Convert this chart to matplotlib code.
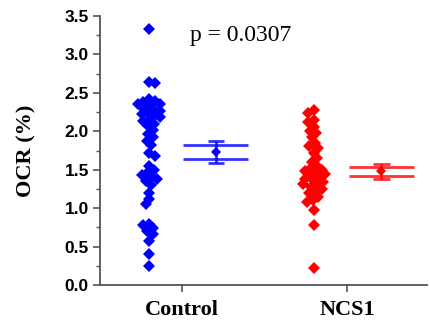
import matplotlib
matplotlib.use("Agg")
import matplotlib.pyplot as plt
import numpy as np
from matplotlib.ticker import MultipleLocator

categories = ["Control", "NCS1"]
control_vals = [3.33, 2.64, 2.63, 2.42, 2.40, 2.38, 2.36, 2.35, 2.33, 2.30, 2.28, 2.26,
                2.24, 2.22, 2.20, 2.18, 2.15, 2.13, 2.10, 2.07, 2.02, 1.97, 1.92, 1.88,
                1.82, 1.72, 1.68, 1.55, 1.50, 1.47, 1.43, 1.40, 1.38, 1.35, 1.30, 1.20,
                1.12, 1.05, 0.80, 0.78, 0.74, 0.70, 0.66, 0.57, 0.40, 0.25]
ncs1_vals = [2.28, 2.24, 2.15, 2.12, 2.06, 2.00, 1.98, 1.92, 1.85, 1.81, 1.78, 1.72,
             1.65, 1.60, 1.55, 1.52, 1.50, 1.48, 1.47, 1.45, 1.43, 1.40, 1.38, 1.36,
             1.34, 1.32, 1.30, 1.28, 1.25, 1.22, 1.20, 1.15, 1.10, 1.08, 0.98, 0.78, 0.22]
# summary box: mean, box low/high, whisker low/high
means = [1.73, 1.48]
box_low = [1.64, 1.42]
box_high = [1.82, 1.53]
whisk_low = [1.59, 1.38]
whisk_high = [1.87, 1.57]
p_text = "p = 0.0307"
colors = ["#0000FF", "#FF0000"]

W, H = 430, 321
fig = plt.figure(figsize=(W / 100, H / 100), dpi=100)
ax = fig.add_axes([100 / W, (H - 285) / H, (427 - 100) / W, (285 - 16) / H])
ax.set_xlim(0.506, 2.48)
ax.set_ylim(0, 3.5)

px_per_x = (427 - 100) / (2.48 - 0.506)
px_per_y = (285 - 16) / 3.5


def swarm(vals, min_d=6.0, max_off=11.0):
    placed = []
    offs = []
    for j, v in enumerate(vals):
        y = v * px_per_y
        sgn = 1.0 if j % 2 == 0 else -1.0
        cands = [0.0]
        for k in range(1, 40):
            cands += [sgn * k * 1.0, -sgn * k * 1.0]
        chosen = None
        for c in cands:
            if all((c - px) ** 2 + (y - py) ** 2 >= min_d ** 2 for px, py in placed):
                chosen = c
                break
        if chosen is None:
            chosen = 0.0
        chosen = max(-max_off, min(max_off, chosen))
        placed.append((chosen, y))
        offs.append(chosen / px_per_x)
    return np.array(offs)


for i, vals in enumerate([control_vals, ncs1_vals]):
    xc = (i + 1) - 0.2
    offs = swarm(vals)
    ax.plot(xc + offs, vals, linestyle="none", marker="D", markersize=6.3,
            color=colors[i], markeredgewidth=0)
    bx = (i + 1) + 0.205
    hw = 0.196
    cw = 0.05
    c = colors[i]
    ax.hlines([box_low[i], box_high[i]], bx - hw, bx + hw, color=c, lw=2.0, alpha=0.8)
    ax.vlines(bx, whisk_low[i], whisk_high[i], color=c, lw=2.0, alpha=0.8)
    ax.hlines([whisk_low[i], whisk_high[i]], bx - cw, bx + cw, color=c, lw=2.0, alpha=0.8)
    ax.plot([bx], [means[i]], marker="D", markersize=5, color=c, markeredgewidth=0)

for s in ["top", "right"]:
    ax.spines[s].set_visible(False)
for s in ["left", "bottom"]:
    ax.spines[s].set_color("#555555")
    ax.spines[s].set_linewidth(1.3)

ax.set_xticks([1, 2])
ax.set_xticklabels(categories, fontfamily="Liberation Serif", fontweight="bold", fontsize=16)
ax.yaxis.set_major_locator(MultipleLocator(0.5))
ax.yaxis.set_minor_locator(MultipleLocator(0.25))
ax.set_yticks(np.arange(0, 3.51, 0.5))
ax.set_yticklabels([f"{v:.1f}" for v in np.arange(0, 3.51, 0.5)],
                   fontfamily="Liberation Sans", fontweight="bold", fontsize=12.5)
ax.tick_params(axis="y", which="major", length=5, width=1.2, color="#555555", pad=3)
ax.tick_params(axis="y", which="minor", length=3, width=1.0, color="#555555")
ax.tick_params(axis="x", which="major", length=5, width=1.2, color="#555555", pad=6)

ax.set_ylabel("OCR (%)", fontfamily="Liberation Serif", fontweight="bold", fontsize=16,
              labelpad=20)
ax.text(1.05, 3.25, p_text, fontfamily="Liberation Serif", fontsize=17,
        ha="left", va="center")

fig.savefig("out.png", dpi=100)
